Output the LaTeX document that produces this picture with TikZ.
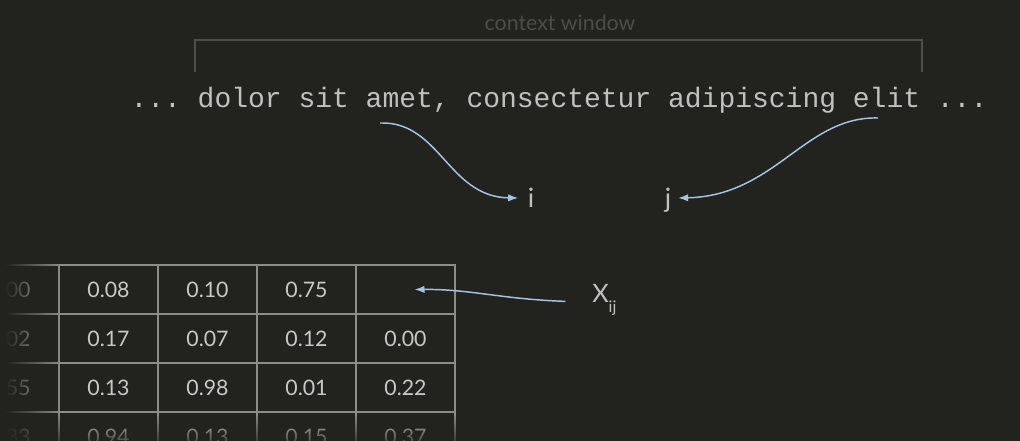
\documentclass[tikz,border=0pt]{standalone}
\usepackage{fontspec}
\setmonofont{Liberation Mono}
\setsansfont{Lato}
\usetikzlibrary{arrows.meta,positioning,calc,fadings}
\definecolor{bgc}{RGB}{34,34,31}
\definecolor{textc}{RGB}{192,192,190}
\definecolor{cellc}{RGB}{200,200,198}
\definecolor{gridc}{RGB}{140,140,138}
\definecolor{brkc}{RGB}{78,78,75}
\definecolor{ctxc}{RGB}{76,76,73}
\definecolor{arrowc}{RGB}{168,195,222}
\tikzfading[name=fadedown, top color=transparent!100, bottom color=transparent!0]

\begin{document}
\begin{tikzpicture}[x=0.75pt, y=-0.75pt,
  cell/.style={draw=gridc, line width=1.1pt, minimum width=74.25pt, minimum height=36.75pt,
    inner sep=0pt, text=cellc, font=\sffamily\fontsize{16}{18}\selectfont},
  pointer/.style={draw=arrowc, line width=1.1pt, -{Latex[length=7.5pt,width=5.5pt]}},
  idx/.style={text=textc, font=\sffamily\fontsize{20}{24}\selectfont, text height=15pt, text depth=0pt, inner sep=3pt}]
  \useasboundingbox (0,0) rectangle (1020,441);
  \fill[bgc] (0,0) rectangle (1020,441);
  \clip (0,0) rectangle (1020,441);
  % context window bracket
  \node[font=\sffamily\fontsize{16}{18}\selectfont, text=ctxc] (ctx) at (560,23) {context window};
  \draw[brkc, line width=1.2pt] (195,72) -- (195,40) -- (922,40) -- (922,72);
  \node[font=\ttfamily\fontsize{21}{24}\selectfont, text=textc, anchor=base] (sent) at (559,108)
     {... dolor sit amet, consectetur adipiscing elit ...};
  \coordinate (amet) at (380,123);
  \coordinate (elit) at (878,118);
  \node[idx] (i) at (531,198) {i};
  \node[idx] (j) at (668,198) {j};
  \draw[pointer] (amet) .. controls (440,121) and (448,197) .. ([xshift=-4pt]i.west);
  \draw[pointer] (elit) .. controls (805,116) and (775,196) .. ([xshift=2pt]j.east);
  % the matrix
  \foreach \row [count=\r from 0] in {{0.00,0.08,0.10,0.75,{}},{0.02,0.17,0.07,0.12,0.00},
                                      {0.55,0.13,0.98,0.01,0.22},{0.33,0.94,0.13,0.15,0.37}}
    \foreach \v [count=\c from 0] in \row
      \node[cell] (c\r\c) at ({9.5+99*\c},{289.5+49*\r}) {\v};
  % left edge fades out in thin strips
  \fill[bgc] (-45,255) rectangle (6,445);
  \foreach \k in {0,...,26}
    \fill[bgc, fill opacity={0.97*(1-\k/27)}] ({6+2*\k},255) rectangle ({8+2*\k},445);
  \fill[bgc, path fading=fadedown, fill opacity=0.85] (-45,414) rectangle (470,445);
  \node[text=textc, font=\sffamily\fontsize{19}{22}\selectfont, anchor=base west, inner sep=0pt] (x) at (592,303)
     {X\raisebox{-7pt}{\fontsize{12}{14}\selectfont ij}};
  \draw[pointer] ([xshift=-20pt,yshift=-1pt]x.west) .. controls (500,299) and (470,289) .. ($(c04.center)+(9,0)$);
\end{tikzpicture}
\end{document}
